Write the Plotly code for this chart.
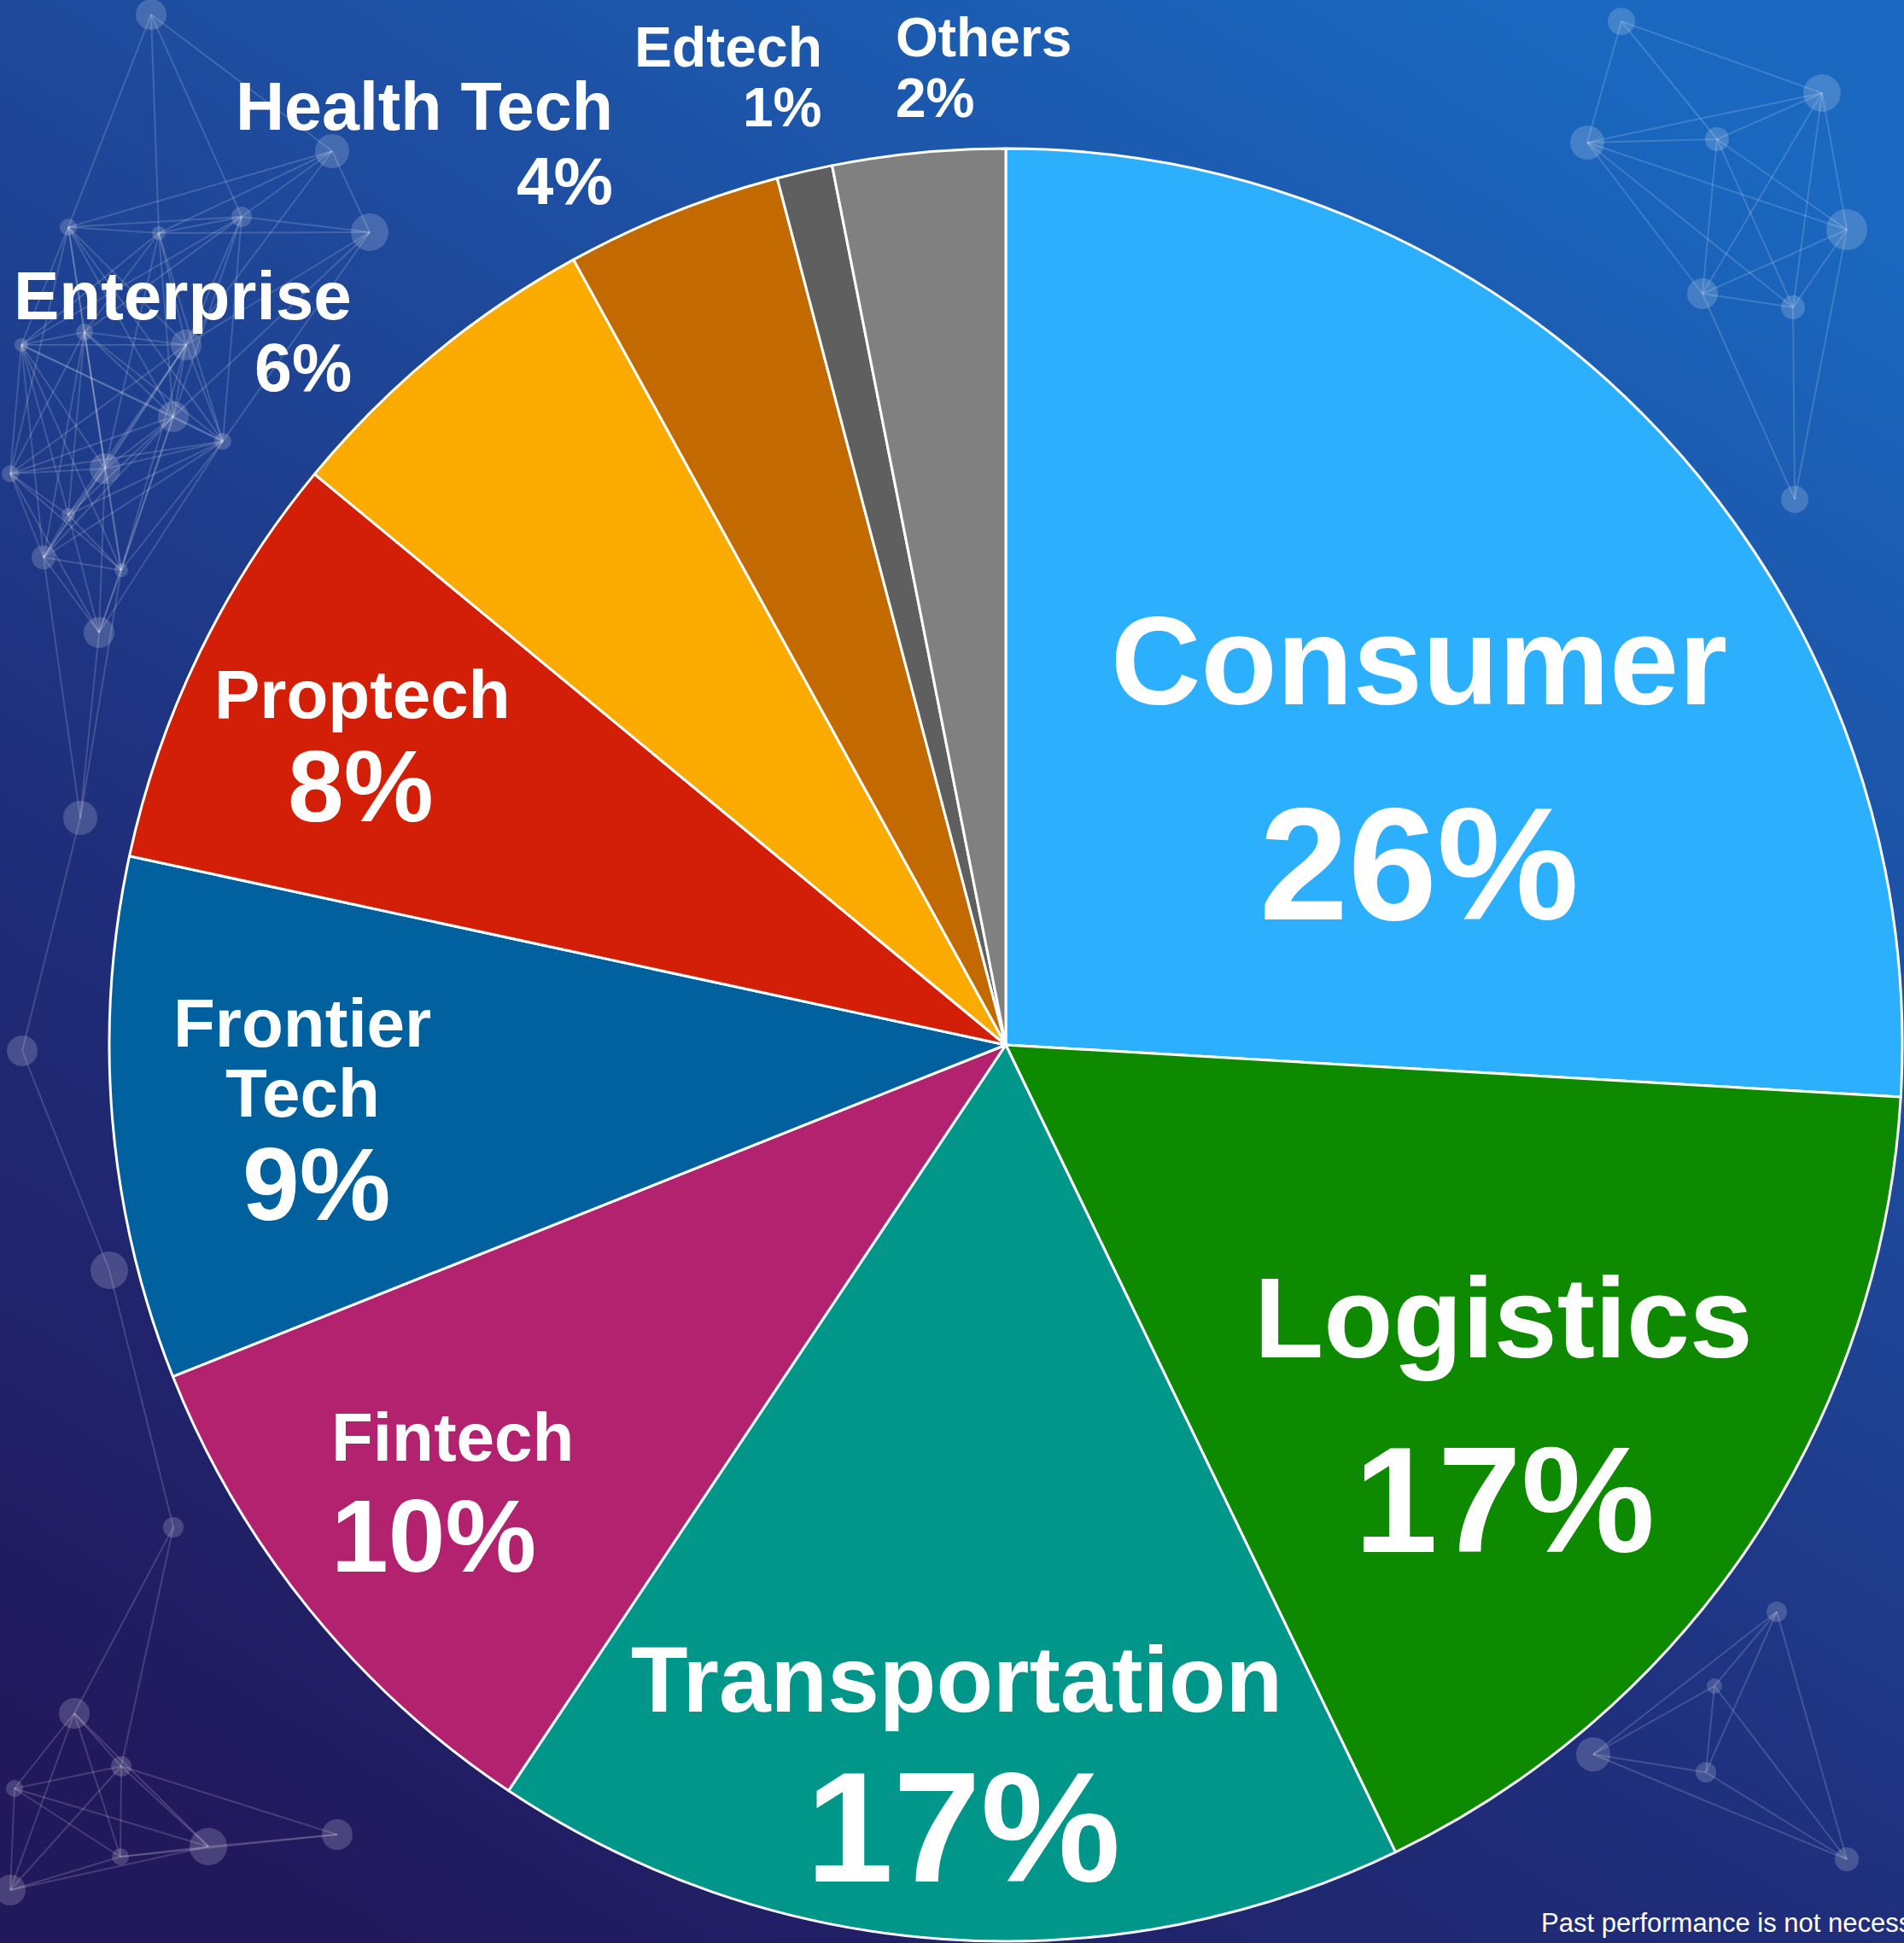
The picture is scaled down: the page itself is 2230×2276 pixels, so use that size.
import base64
import math
import plotly.graph_objects as go

W, H = 2230, 2276

# --- chart data ---
sectors = ["Consumer", "Logistics", "Transportation", "Fintech", "Frontier Tech",
           "Proptech", "Enterprise", "Health Tech", "Edtech", "Others"]
values = [25.9, 16.9, 16.5, 9.6, 9.4, 7.6, 6.0, 3.9, 1.0, 3.1]
pct_labels = ["26%", "17%", "17%", "10%", "9%", "8%", "6%", "4%", "1%", "2%"]
disclaimer = "Past performance is not necessarily indicative of future results."

colors = ["#2cb0fe", "#0d8a00", "#00968a", "#b2226f", "#00619e",
          "#d31f08", "#fbab00", "#c26a00", "#5f5f5f", "#808080"]

# label placement in pixels: name x/y's/size, pct x/y/size, anchor
name_lines = {"Frontier Tech": ["Frontier", "Tech"]}
label_layout = {
    "Consumer":       dict(x=1662, ny=[775], ns=146, px=1662, py=1012, ps=187, anchor="center"),
    "Logistics":      dict(x=1761, ny=[1544], ns=133, px=1762, py=1757, ps=176, anchor="center"),
    "Transportation": dict(x=1120, ny=[1967], ns=109, px=1128, py=2140, ps=184, anchor="center"),
    "Fintech":        dict(x=530, ny=[1683], ns=80, px=508, py=1799, ps=120, anchor="center"),
    "Frontier Tech":  dict(x=354, ny=[1198, 1280], ns=80, px=370, py=1387, ps=120, anchor="center"),
    "Proptech":       dict(x=424, ny=[813], ns=80, px=423, py=921, ps=118, anchor="center"),
    "Enterprise":     dict(x=414, ny=[347], ns=80, px=414, py=431, ps=79, anchor="right"),
    "Health Tech":    dict(x=720, ny=[124], ns=79, px=720, py=212, ps=78, anchor="right"),
    "Edtech":         dict(x=965, ny=[55], ns=66, px=965, py=126, ps=64, anchor="right"),
    "Others":         dict(x=1047, ny=[44], ns=64, px=1047, py=115, ps=64, anchor="left"),
}

# --- decorative background: gradient + faint network ---
bg_nodes = [(177, 17, 18), (80, 266, 10), (186, 273, 8), (283, 254, 12), (389, 177, 20),
            (433, 272, 22), (25, 404, 8), (99, 389, 10), (218, 404, 18), (12, 555, 10),
            (123, 549, 18), (80, 603, 8), (142, 668, 8), (51, 653, 14), (116, 741, 18),
            (261, 517, 10), (203, 488, 18), (94, 958, 20), (26, 1231, 18), (128, 1488, 22),
            (203, 1789, 12), (87, 2007, 18), (142, 2069, 12), (17, 2095, 10), (141, 2175, 10),
            (12, 2214, 18), (395, 2149, 18), (244, 2163, 22), (1899, 25, 16), (2134, 109, 22),
            (2011, 163, 14), (2100, 360, 14), (1859, 167, 20), (1994, 344, 18), (2163, 269, 24),
            (2102, 585, 16), (2081, 1888, 12), (2008, 1975, 9), (1998, 2076, 12),
            (1866, 2055, 20), (2163, 2178, 14)]

parts = [f'<svg xmlns="http://www.w3.org/2000/svg" width="{W}" height="{H}" viewBox="0 0 {W} {H}">',
         '<defs><linearGradient id="g" gradientUnits="userSpaceOnUse" x1="1800" y1="0" x2="400" y2="2276">'
         '<stop offset="0" stop-color="#1a68c0"/><stop offset="0.35" stop-color="#1e4a9c"/>'
         '<stop offset="0.64" stop-color="#1f2f7c"/><stop offset="1" stop-color="#22185c"/>'
         '</linearGradient></defs>',
         f'<rect width="{W}" height="{H}" fill="url(#g)"/>']
for i, (x1, y1, _) in enumerate(bg_nodes):
    for x2, y2, _ in bg_nodes[i + 1:]:
        if math.hypot(x2 - x1, y2 - y1) < 330:
            parts.append(f'<line x1="{x1}" y1="{y1}" x2="{x2}" y2="{y2}" '
                         'stroke="white" stroke-opacity="0.16" stroke-width="2"/>')
for x, y, r in bg_nodes:
    parts.append(f'<circle cx="{x}" cy="{y}" r="{r}" fill="white" fill-opacity="0.18"/>')
parts.append("</svg>")
bg_src = "data:image/svg+xml;base64," + base64.b64encode("".join(parts).encode()).decode()

# pie: radius 1050 px centred at (1178, 1224)
fig = go.Figure(go.Pie(
    labels=sectors,
    values=values,
    sort=False,
    direction="clockwise",
    rotation=0,
    textinfo="none",
    hoverinfo="label+percent",
    marker=dict(colors=colors, line=dict(color="white", width=3)),
    domain=dict(x=[128 / W, 2228 / W], y=[2 / H, 2102 / H]),
    showlegend=False,
))

font_family = "Liberation Sans, Arial, sans-serif"
annotations = []
for sector, pct in zip(sectors, pct_labels):
    lay = label_layout[sector]
    lines = name_lines.get(sector, [sector])
    for text, y in zip(lines, lay["ny"]):
        annotations.append(dict(
            text=text, x=lay["x"] / W, y=1 - y / H, xref="paper", yref="paper",
            xanchor=lay["anchor"], yanchor="middle", showarrow=False,
            font=dict(family=font_family, size=lay["ns"], color="white", weight="bold")))
    annotations.append(dict(
        text=pct, x=lay["px"] / W, y=1 - lay["py"] / H, xref="paper", yref="paper",
        xanchor=lay["anchor"], yanchor="middle", showarrow=False,
        font=dict(family=font_family, size=lay["ps"], color="white", weight="bold")))

annotations.append(dict(
    text=disclaimer, x=1803 / W, y=1 - 2252 / H, xref="paper", yref="paper",
    xanchor="left", yanchor="middle", showarrow=False,
    font=dict(family=font_family, size=31, color="white")))

fig.update_layout(
    width=W, height=H,
    margin=dict(l=0, r=0, t=0, b=0),
    paper_bgcolor="#1e3f8e",
    plot_bgcolor="rgba(0,0,0,0)",
    images=[dict(source=bg_src, xref="paper", yref="paper", x=0, y=1,
                 sizex=1, sizey=1, sizing="stretch", xanchor="left", yanchor="top",
                 layer="below")],
    annotations=annotations,
)

# page body has a default margin; drop it so the figure sits flush
fig.write_html("out.html", config={"displayModeBar": False},
               post_script="document.body.style.margin='0';")
